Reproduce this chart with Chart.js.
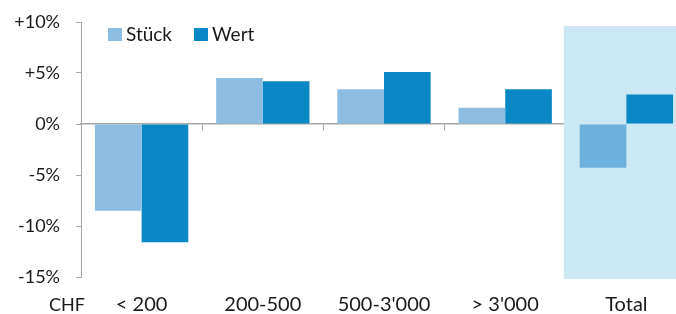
<!DOCTYPE html>
<html>
<head>
<meta charset="utf-8">
<script src="https://cdn.jsdelivr.net/npm/chart.js@4/dist/chart.umd.min.js"></script>
<style>
    html, body { margin: 0; padding: 0; background: #fff; }
    #wrap { width: 676px; height: 314px; overflow: hidden; }
</style>
</head>
<body>
<div id="wrap"><canvas id="chart" width="700" height="314"></canvas></div>
<script>
// Chart data
const categories = ['< 200', '200-500', "500-3'000", "> 3'000", 'Total'];
const stueck = [-8.5, 4.5, 3.4, 1.6, -4.3];
const wert = [-11.6, 4.2, 5.1, 3.4, 2.9];
const yTicks = [-15, -10, -5, 0, 5, 10];

const FONT = 'Lato, "Open Sans", sans-serif';
const AXIS_GRAY = '#a6a6a6';
const TEXT = '#1a1a1a';

// Light blue band behind the "Total" column
const totalBand = {
    id: 'totalBand',
    beforeDatasetsDraw(chart) {
        const { ctx, scales: { x, y } } = chart;
        const half = (x.getPixelForValue(1) - x.getPixelForValue(0)) / 2;
        const left = x.getPixelForValue(4) - half - 2;
        ctx.save();
        ctx.fillStyle = '#cde8f5';
        ctx.fillRect(left, y.getPixelForValue(9.6), 200, y.getPixelForValue(-15.2) - y.getPixelForValue(9.6));
        ctx.restore();
    }
};

// Legend inside the plot and the "CHF" prefix under the axis
const extras = {
    id: 'extras',
    afterDraw(chart) {
        const ctx = chart.ctx;
        ctx.save();
        ctx.font = '19px ' + FONT;
        ctx.textBaseline = 'middle';
        const items = [
            { text: 'Stück', color: '#8dbde3', x: 108 },
            { text: 'Wert', color: '#0a87c5', x: 194 }
        ];
        items.forEach(function(it) {
            ctx.fillStyle = it.color;
            ctx.fillRect(it.x, 28, 14, 13);
            ctx.fillStyle = TEXT;
            ctx.fillText(it.text, it.x + 18, 35);
        });
        ctx.font = '18px ' + FONT;
        ctx.fillText('CHF', 49, 305);
        ctx.restore();
    }
};

const ctx = document.getElementById('chart').getContext('2d');
new Chart(ctx, {
    type: 'bar',
    data: {
        labels: categories,
        datasets: [{
            label: 'Stück',
            data: stueck,
            backgroundColor: ['#8dbde3', '#8dbde3', '#8dbde3', '#8dbde3', '#6cb0dd'],
            categoryPercentage: 0.77,
            barPercentage: 1.0
        }, {
            label: 'Wert',
            data: wert,
            backgroundColor: '#0a87c5',
            categoryPercentage: 0.77,
            barPercentage: 1.0
        }]
    },
    options: {
        responsive: false,
        animation: false,
        layout: { padding: { top: 22, right: 13, left: 0, bottom: 0 } },
        plugins: {
            legend: { display: false },
            tooltip: { enabled: false }
        },
        scales: {
            x: {
                position: 'bottom',
                grid: { display: false, drawTicks: false },
                border: { display: false },
                ticks: { color: TEXT, font: { family: FONT, size: 20 }, padding: 16, maxRotation: 0 },
                afterFit(scale) { scale.height = 37; }
            },
            zero: {
                type: 'category',
                axis: 'x',
                position: { y: 0 },
                grid: { drawOnChartArea: false, color: AXIS_GRAY, tickLength: 6 },
                border: { color: AXIS_GRAY, width: 1.5 },
                ticks: { display: false }
            },
            y: {
                min: -15,
                max: 10,
                afterBuildTicks(scale) { scale.ticks = yTicks.map(v => ({ value: v })); },
                grid: { drawOnChartArea: false, color: AXIS_GRAY, tickLength: 5 },
                border: { color: AXIS_GRAY },
                ticks: {
                    color: TEXT,
                    font: { family: FONT, size: 18 },
                    padding: 16,
                    callback: v => (v > 0 ? '+' : '') + v + '%'
                },
                afterFit(scale) {
                    scale.width = 81;
                    scale.paddingTop = 0;
                    scale.paddingBottom = 0;
                }
            }
        }
    },
    plugins: [totalBand, extras]
});
</script>
</body>
</html>
